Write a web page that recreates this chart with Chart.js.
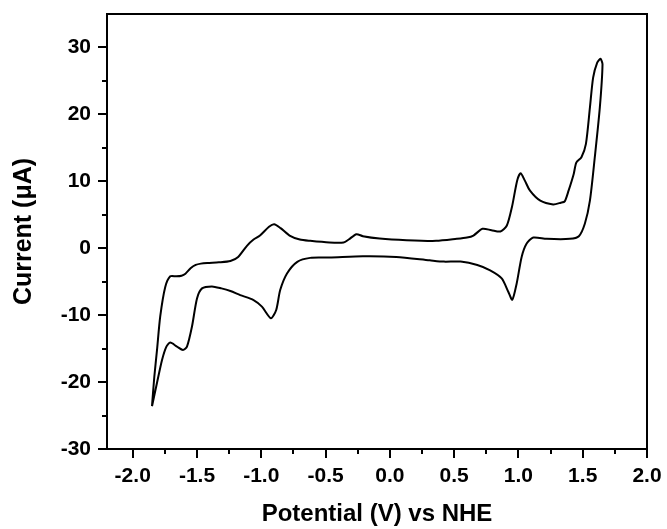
<!DOCTYPE html>
<html>
<head>
<meta charset="utf-8">
<script src="https://cdn.jsdelivr.net/npm/chart.js@4.4.1/dist/chart.umd.min.js"></script>
<style>
  html, body { margin: 0; padding: 0; background: #fff; }
  canvas { display: block; }
</style>
</head>
<body>
<canvas id="c" width="667" height="529"></canvas>
<script>
// Cyclic voltammogram: forward (anodic) sweep then reverse (cathodic) sweep, closed loop
const potential = [
  -1.85, -1.832, -1.811, -1.786, -1.747, -1.708, -1.66, -1.62, -1.59, -1.55, -1.51, -1.47, -1.42, -1.33, -1.24,
  -1.18, -1.11, -1.06, -1.01, -0.94, -0.90, -0.85, -0.78, -0.70, -0.62, -0.47, -0.36, -0.32, -0.26, -0.21,
  -0.08, 0.13, 0.36, 0.52, 0.60, 0.65, 0.72, 0.79, 0.86, 0.91, 0.95, 0.99, 1.017, 1.05, 1.09, 1.17, 1.27,
  1.33, 1.36, 1.39, 1.43, 1.45, 1.49, 1.525, 1.556, 1.581, 1.612, 1.638,
  1.654, 1.633, 1.594, 1.556, 1.517, 1.47, 1.40, 1.22, 1.115, 1.064, 1.025, 0.986, 0.952, 0.921, 0.87, 0.78,
  0.68, 0.55, 0.42, 0.31, 0.05, -0.21, -0.47, -0.62, -0.72, -0.80, -0.853, -0.884, -0.925, -0.995, -1.06,
  -1.164, -1.24, -1.31, -1.384, -1.461, -1.50, -1.539, -1.578, -1.609, -1.656, -1.708, -1.738, -1.772, -1.811, -1.85
];
const current = [
  -23.6, -19.2, -15.2, -10.2, -5.8, -4.2, -4.2, -4.1, -3.8, -3.0, -2.5, -2.3, -2.2, -2.1, -1.9,
  -1.3, 0.4, 1.3, 1.9, 3.2, 3.6, 3.0, 1.9, 1.3, 1.1, 0.85, 0.85, 1.3, 2.1, 1.8,
  1.45, 1.2, 1.1, 1.4, 1.6, 1.9, 2.9, 2.7, 2.5, 3.4, 6.2, 10.1, 11.2, 10.1, 8.6, 7.1, 6.55,
  6.8, 7.0, 8.6, 11.1, 12.8, 13.6, 15.6, 21.0, 25.5, 27.7, 28.3,
  27.5, 21.0, 13.6, 7.1, 3.7, 1.8, 1.4, 1.4, 1.6, 0.7, -1.3, -5.3, -7.7, -6.5, -4.5, -3.3,
  -2.5, -2.0, -2.0, -1.8, -1.3, -1.2, -1.4, -1.44, -2.03, -3.77, -6.25, -9.23, -10.46, -8.73, -7.74,
  -7.0, -6.4, -6.0, -5.7, -6.0, -7.5, -11.7, -14.7, -15.2, -14.7, -14.1, -14.7, -16.7, -20.1, -23.6
];
const xMinorTicks = [-1.75, -1.25, -0.75, -0.25, 0.25, 0.75, 1.25, 1.75];
const yMinorTicks = [-25, -15, -5, 5, 15, 25];
const xTitle = 'Potential (V) vs NHE';
const yTitle = 'Current (\u03BCA)';

const points = potential.map((v, i) => ({ x: v, y: current[i] }));

const FONT = '"Liberation Sans", Arial, sans-serif';

const framePlugin = {
  id: 'frame',
  afterDraw(chart) {
    const ctx = chart.ctx;
    const a = chart.chartArea;
    const xs = chart.scales.x, ys = chart.scales.y;
    ctx.save();
    ctx.strokeStyle = '#000';
    ctx.lineWidth = 2;
    ctx.beginPath();
    ctx.moveTo(a.left, a.top);
    ctx.lineTo(a.right, a.top);
    ctx.lineTo(a.right, a.bottom);
    ctx.stroke();
    ctx.beginPath();
    xMinorTicks.forEach(v => {
      const px = Math.round(xs.getPixelForValue(v));
      ctx.moveTo(px, a.bottom);
      ctx.lineTo(px, a.bottom + 5);
    });
    yMinorTicks.forEach(v => {
      const py = Math.round(ys.getPixelForValue(v));
      ctx.moveTo(a.left, py);
      ctx.lineTo(a.left - 5, py);
    });
    ctx.stroke();
    ctx.restore();
  }
};

new Chart(document.getElementById('c'), {
  type: 'scatter',
  data: {
    datasets: [{
      data: points,
      showLine: true,
      borderColor: '#000',
      borderWidth: 2,
      pointRadius: 0,
      tension: 0.25,
      fill: false
    }]
  },
  options: {
    responsive: false,
    animation: false,
    devicePixelRatio: 1,
    layout: { padding: { top: 14, right: 20, left: 0, bottom: 0 } },
    plugins: { legend: { display: false }, tooltip: { enabled: false } },
    scales: {
      x: {
        type: 'linear',
        position: 'bottom',
        min: -2.2,
        max: 2.0,
        afterFit(s) { s.height = 80; s.paddingLeft = 0; s.paddingRight = 0; },
        ticks: {
          stepSize: 0.5,
          includeBounds: false,
          autoSkip: false,
          maxRotation: 0,
          padding: 6,
          color: '#000',
          font: { family: FONT, size: 21, weight: 'bold' },
          callback: v => Number(v).toFixed(1)
        },
        grid: { drawOnChartArea: false, drawTicks: true, tickLength: 9, color: '#000', lineWidth: 2 },
        border: { display: true, color: '#000', width: 2 },
        title: {
          display: true,
          text: xTitle,
          color: '#000',
          font: { family: FONT, size: 24, weight: 'bold' },
          padding: { top: 0, bottom: 0 }
        }
      },
      y: {
        type: 'linear',
        position: 'left',
        min: -30,
        max: 35,
        afterFit(s) { s.width = 107; s.paddingTop = 0; s.paddingBottom = 0; },
        ticks: {
          stepSize: 10,
          includeBounds: false,
          padding: 7,
          color: '#000',
          font: { family: FONT, size: 21, weight: 'bold' },
          callback: v => String(v)
        },
        grid: { drawOnChartArea: false, drawTicks: true, tickLength: 9, color: '#000', lineWidth: 2 },
        border: { display: true, color: '#000', width: 2 },
        title: {
          display: true,
          text: yTitle,
          color: '#000',
          font: { family: FONT, size: 25, weight: 'bold' },
          padding: { top: 9, bottom: 0 }
        }
      }
    }
  },
  plugins: [framePlugin]
});
</script>
</body>
</html>
